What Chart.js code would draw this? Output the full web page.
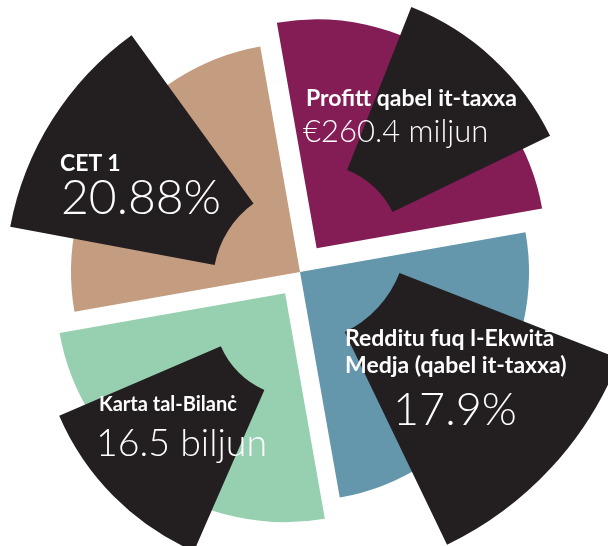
<!DOCTYPE html>
<html>
<head>
<meta charset="utf-8">
<script src="https://cdn.jsdelivr.net/npm/chart.js@4/dist/chart.umd.min.js"></script>
<style>
  body { margin: 0; background: #fff; }
  #wrap { position: relative; width: 608px; height: 546px; overflow: hidden; }
  #wrap canvas { position: absolute; left: 0; top: 0; }
  .lbl { position: absolute; color: #fff; font-family: Lato, "Open Sans", sans-serif; white-space: nowrap; line-height: 1; }
  .t { font-weight: 700; }
  .v { font-weight: 300; }
</style>
</head>
<body>
<div id="wrap">
  <canvas id="pie" width="608" height="546"></canvas>
  <canvas id="b0" width="608" height="546"></canvas>
  <canvas id="b1" width="608" height="546"></canvas>
  <canvas id="b2" width="608" height="546"></canvas>
  <canvas id="b3" width="608" height="546"></canvas>
</div>
<script>
// categories and the figures shown on them
const categories = ['CET 1', 'Profitt qabel it-taxxa', 'Redditu fuq l-Ekwitā Medja (qabel it-taxxa)', 'Karta tal-Bilanċ'];
const figures = ['20.88%', '€260.4 miljun', '17.9%', '16.5 biljun'];
// four equal shares of the pie
const shares = [1, 1, 1, 1];
// width of each black sector, degrees
const blackSpans = [43.5, 42.7, 43, 43.1];

const colours = ['#c49c80', '#841c56', '#6496ac', '#96d0b0'];
const black = '#231f20';

// pie layout
const pieCenter = [300, 272];
const pieRadius = 229;
const pieOffsets = [0, 116, 0, 104];

// black sectors: rotation (deg from top), centre, inner and outer radius
const blackGeom = [
    {rot: 280.6, c: [311, 283], r0: 98, r1: 306},
    {rot: 21.5, c: [316, 249], r0: 85, r1: 260},
    {rot: 111.3, c: [297, 233], r0: 110, r1: 346},
    {rot: 203.6, c: [298, 313], r0: 84, r1: 260}
];

// padding that puts the chart area centre on (cx, cy)
function padFor(c) {
    const W = 608, H = 546;
    const p = {left: 0, right: 0, top: 0, bottom: 0};
    if (c[0] < W / 2) p.right = W - 2 * c[0]; else p.left = 2 * c[0] - W;
    if (c[1] < H / 2) p.bottom = H - 2 * c[1]; else p.top = 2 * c[1] - H;
    return p;
}

const common = {
    responsive: false,
    animation: false,
    events: [],
    plugins: {legend: {display: false}, tooltip: {enabled: false}}
};

new Chart(document.getElementById('pie'), {
    type: 'pie',
    data: {
        labels: categories,
        datasets: [{
            data: shares,
            backgroundColor: colours,
            borderWidth: 0,
            offset: pieOffsets,
            clip: false
        }]
    },
    options: {...common, rotation: -100, radius: pieRadius, layout: {padding: padFor(pieCenter)}}
});

blackGeom.forEach(function(g, i) {
    new Chart(document.getElementById('b' + i), {
        type: 'doughnut',
        data: {
            labels: [categories[i], ''],
            datasets: [{
                data: [blackSpans[i], 360 - blackSpans[i]],
                backgroundColor: [black, 'rgba(0,0,0,0)'],
                borderWidth: 0,
                clip: false
            }]
        },
        options: {
            ...common,
            rotation: g.rot,
            radius: g.r1,
            cutout: (g.r0 / g.r1 * 100) + '%',
            layout: {padding: padFor(g.c)}
        }
    });
});

// text labels
const labelPos = [
    {t: [[60, 151]], v: [61, 172], ts: 23, vs: 48},
    {t: [[306, 86]], v: [303, 115], ts: 23, vs: 31},
    {t: [[345, 326], [345, 353]], v: [393, 386], ts: 23, vs: 45},
    {t: [[99, 393]], v: [96, 423], ts: 20, vs: 37.5}
];
const titleLines = [['CET 1'], ['Profitt qabel it-taxxa'], ['Redditu fuq l-Ekwitā', 'Medja (qabel it-taxxa)'], ['Karta tal-Bilanċ']];
const wrap = document.getElementById('wrap');
function addText(txt, cls, x, y, size) {
    const d = document.createElement('div');
    d.className = 'lbl ' + cls;
    d.textContent = txt;
    d.style.left = x + 'px';
    d.style.top = y + 'px';
    d.style.fontSize = size + 'px';
    wrap.appendChild(d);
}
labelPos.forEach(function(p, i) {
    titleLines[i].forEach(function(line, k) {
        addText(line, 't', p.t[k][0], p.t[k][1], p.ts);
    });
    addText(figures[i], 'v', p.v[0], p.v[1], p.vs);
});
</script>
</body>
</html>
